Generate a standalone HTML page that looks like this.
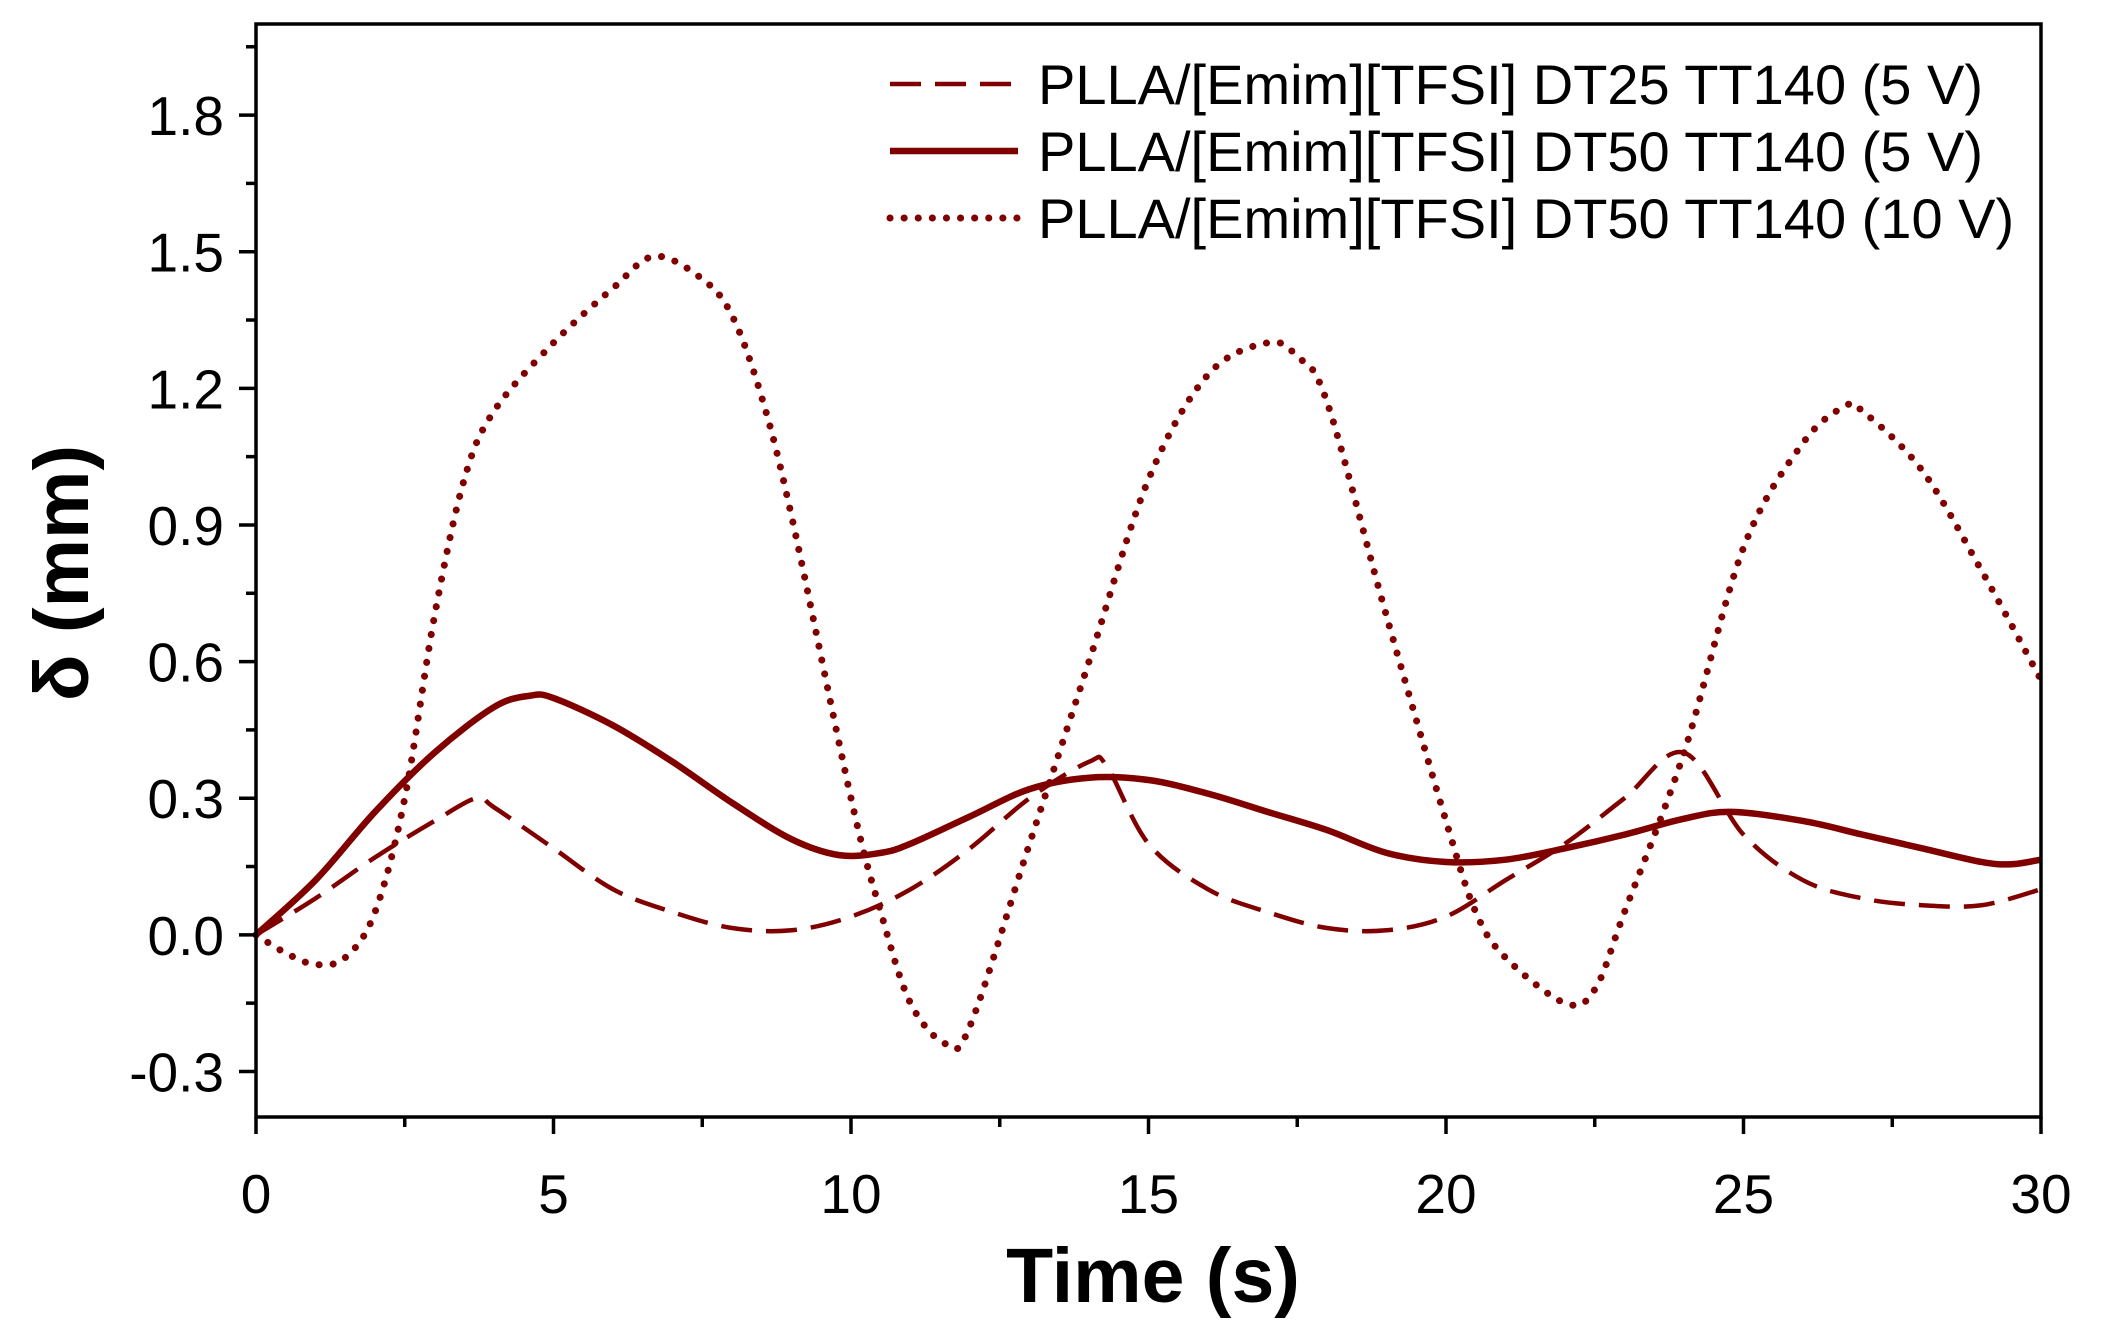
<!DOCTYPE html>
<html><head><meta charset="utf-8"><style>
html,body{margin:0;padding:0;background:#fff}
svg{display:block;font-family:"Liberation Sans",Arial,sans-serif}
</style></head><body>
<svg id="chart" width="2103" height="1329" viewBox="0 0 2103 1329" xmlns="http://www.w3.org/2000/svg">
<g id="plot"></g>
<g id="axes"></g>
<g id="legend"></g>
</svg>
<script>
const xTicks = [0,5,10,15,20,25,30];
const yTicks = [-0.3,0.0,0.3,0.6,0.9,1.2,1.5,1.8];
const yTickLabels = ["-0.3","0.0","0.3","0.6","0.9","1.2","1.5","1.8"];
const seriesNames = ["PLLA/[Emim][TFSI] DT25 TT140 (5 V)","PLLA/[Emim][TFSI] DT50 TT140 (5 V)","PLLA/[Emim][TFSI] DT50 TT140 (10 V)"];
const dt25_5V_t = [0,1,2,3,3.7,4,5,6,7,8,9,10,11,12,13,14,14.3,15,16,17,18,19,20,21,22,23,24,25,26,27,28,29,30];
const dt25_5V_v = [0,0.08,0.17,0.25,0.3,0.28,0.19,0.1,0.05,0.015,0.01,0.04,0.1,0.19,0.3,0.38,0.37,0.2,0.1,0.05,0.015,0.01,0.04,0.12,0.2,0.3,0.4,0.22,0.12,0.08,0.065,0.065,0.1];
const dt50_5V_t = [0,1,2,3,4,4.6,5,6,7,8,9,9.8,10.5,11,12,13,14,15,16,17,18,19,20,21,22,23,24,24.8,26,27,28,29,29.5,30];
const dt50_5V_v = [0,0.12,0.27,0.4,0.5,0.525,0.52,0.46,0.38,0.29,0.21,0.175,0.18,0.2,0.26,0.32,0.345,0.34,0.31,0.27,0.23,0.18,0.16,0.165,0.19,0.22,0.255,0.27,0.25,0.22,0.19,0.16,0.155,0.165];
const dt50_10V_t = [0,0.5,1,1.5,2,2.5,3,3.5,4,5,6,6.7,7.5,8,8.5,9,10,10.5,11,11.6,12,13,14,15,16,17,17.5,18,19,20,20.5,21,22,22.5,23,24,25,26,26.7,27,28,29,30];
const dt50_10V_v = [0,-0.04,-0.065,-0.05,0.05,0.3,0.7,1.0,1.15,1.3,1.42,1.49,1.44,1.36,1.18,0.92,0.3,0.05,-0.15,-0.24,-0.2,0.2,0.6,1.0,1.23,1.3,1.27,1.17,0.7,0.25,0.05,-0.05,-0.15,-0.12,0.05,0.4,0.85,1.08,1.16,1.15,1.02,0.8,0.56];

const X0=256,X1=2041,Y_TOP=24,Y_BOT=1117,YMIN=-0.4,YMAX=2.0;
const xs=v=>X0+(v-0)/(30-0)*(X1-X0);
const ys=v=>Y_BOT-(v-YMIN)/(YMAX-YMIN)*(Y_BOT-Y_TOP);
const NS="http://www.w3.org/2000/svg";
function mk(tag,attrs,parent){const e=document.createElementNS(NS,tag);for(const k in attrs)e.setAttribute(k,attrs[k]);parent.appendChild(e);return e;}
function pathFor(t,v){
  const p=t.map((x,i)=>[xs(x),ys(v[i])]);
  let d="M"+p[0][0]+","+p[0][1];
  for(let i=0;i<p.length-1;i++){
    const p0=p[Math.max(0,i-1)],p1=p[i],p2=p[i+1],p3=p[Math.min(p.length-1,i+2)];
    const c1=[p1[0]+(p2[0]-p0[0])/6,p1[1]+(p2[1]-p0[1])/6];
    const c2=[p2[0]-(p3[0]-p1[0])/6,p2[1]-(p3[1]-p1[1])/6];
    d+=" C"+c1+" "+c2+" "+p2;
  }
  return d;
}
const plot=document.getElementById('plot'),axes=document.getElementById('axes'),legend=document.getElementById('legend');
const C="#800000";
const styles=[{w:4.5,dash:"31 14",cap:"butt"},{w:6.5,dash:"",cap:"butt"},{w:7,dash:"0.1 14",cap:"round"}];
const data=[[dt25_5V_t,dt25_5V_v],[dt50_5V_t,dt50_5V_v],[dt50_10V_t,dt50_10V_v]];
const names=["series-dt25-5v","series-dt50-5v","series-dt50-10v"];
data.forEach((s,i)=>{
  const el=mk('path',{d:pathFor(s[0],s[1]),fill:"none",stroke:C,"stroke-width":styles[i].w,"stroke-linecap":styles[i].cap,"stroke-dasharray":styles[i].dash},plot);
  
  
});
const fr=mk('rect',{x:X0,y:Y_TOP,width:X1-X0,height:Y_BOT-Y_TOP,fill:"none",stroke:"#000","stroke-width":3.5},axes);


xTicks.forEach(v=>{
  const tk=mk('line',{x1:xs(v),x2:xs(v),y1:Y_BOT,y2:Y_BOT+17,stroke:"#000","stroke-width":3.5},axes);
  
  
  const tx=mk('text',{x:xs(v),y:1213,"text-anchor":"middle","font-size":55},axes);
  tx.textContent=v;
  
  
});
for(let v=2.5;v<30;v+=5){
  const tk=mk('line',{x1:xs(v),x2:xs(v),y1:Y_BOT,y2:Y_BOT+10,stroke:"#000","stroke-width":3.5},axes);
  
  
}
yTicks.forEach((v,i)=>{
  const tk=mk('line',{x1:X0-17,x2:X0,y1:ys(v),y2:ys(v),stroke:"#000","stroke-width":3.5},axes);
  
  
  const tx=mk('text',{x:224,y:ys(v)+20,"text-anchor":"end","font-size":55},axes);
  tx.textContent=yTickLabels[i];
  
  
});
for(let v=-0.45;v<=1.96;v+=0.3){
  if(v<YMIN)continue;
  const tk=mk('line',{x1:X0-10,x2:X0,y1:ys(v),y2:ys(v),stroke:"#000","stroke-width":3.5},axes);
  
  
}
const xt=mk('text',{x:1153,y:1302,"text-anchor":"middle","font-size":77,"font-weight":"bold"},axes);
xt.textContent="Time (s)";


const yt=mk('text',{x:0,y:0,"text-anchor":"middle","font-size":77,"font-weight":"bold",transform:"translate(88,573) rotate(-90)"},axes);
yt.textContent="δ (mm)";


const ly=[84,151,218];
seriesNames.forEach((n,i)=>{
  const ln=mk('line',{x1:890,x2:1018,y1:ly[i],y2:ly[i],stroke:C,"stroke-width":styles[i].w,"stroke-linecap":styles[i].cap,"stroke-dasharray":styles[i].dash},legend);
  
  
  const tx=mk('text',{x:1038,y:ly[i]+20,"font-size":56},legend);
  tx.textContent=n;
  
  
});
</script>
</body></html>
